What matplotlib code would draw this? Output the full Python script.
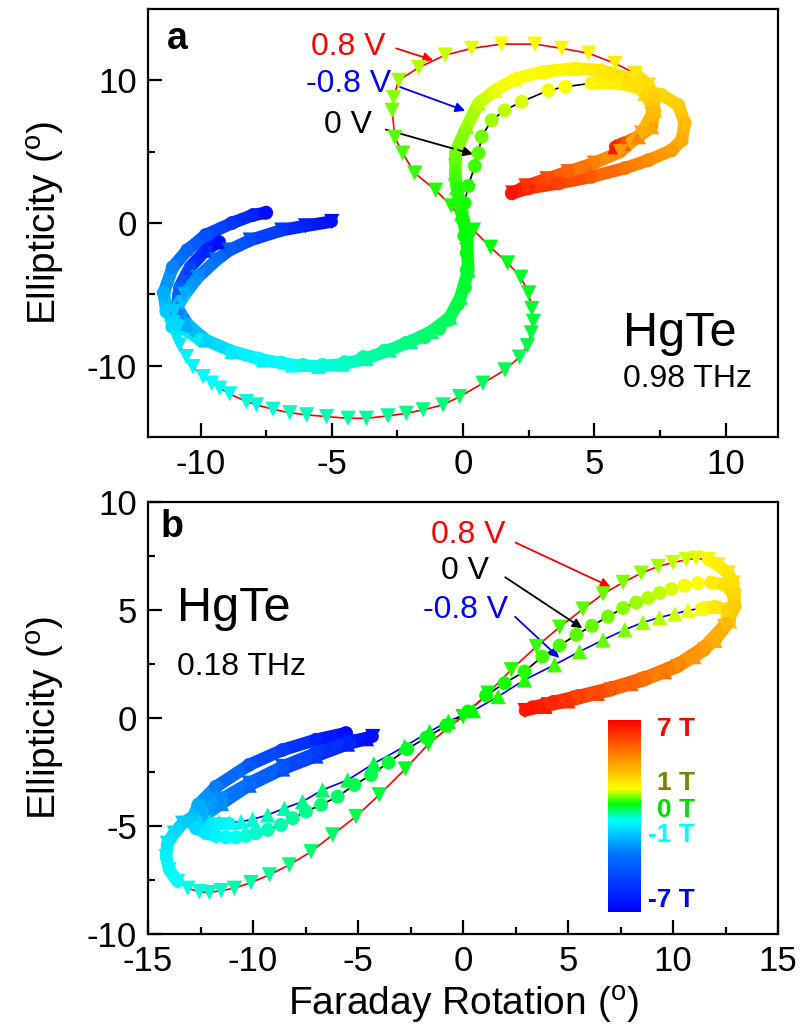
import numpy as np
import matplotlib
matplotlib.use('Agg')
import matplotlib.pyplot as plt
from matplotlib.colors import LinearSegmentedColormap
from matplotlib.collections import LineCollection

plt.rcParams['font.family'] = ['Liberation Sans', 'DejaVu Sans']
plt.rcParams['mathtext.fontset'] = 'custom'
plt.rcParams['mathtext.rm'] = 'Liberation Sans'
plt.rcParams['axes.unicode_minus'] = False

# field (T) -> position on the colour bar
b_nodes = [-7, -1, 0, 1, 7]
f_nodes = [0.03, 0.478, 0.565, 0.643, 0.97]
cmap = LinearSegmentedColormap.from_list('field', [
    (0.0, (0, 0, 1)), (0.3, (0, 0.45, 1)), (0.478, (0, 1, 1)), (0.565, (0, 1, 0)),
    (0.643, (1, 1, 0)), (0.78, (1, 0.62, 0)), (1.0, (1, 0, 0))])

bar_labels = ['7 T', '1 T', '0 T', '-1 T', '-7 T']
bar_label_colors = ['#ff0000', '#808000', '#00dd00', '#00ffff', '#0000ff']

# ---- panel a, 0.98 THz : columns B (T), Faraday rotation, ellipticity
a_p08 = np.array([
    [-7.0, -5.0, 0.1], [-6.3, -6.0, -0.2], [-5.6, -6.9, -0.5], [-4.8, -8.1, -1.2],
    [-4.2, -8.9, -1.9], [-3.6, -9.4, -2.6], [-3.0, -10.1, -3.8], [-2.4, -10.6, -5.0],
    [-1.9, -11.0, -6.2], [-1.6, -11.1, -7.3], [-1.4, -10.9, -8.1], [-1.3, -10.8, -8.55],
    [-1.2, -10.54, -9.37], [-1.12, -10.29, -10.07], [-1.05, -9.9, -10.77], [-1.0, -9.58, -11.23],
    [-0.97, -9.27, -11.58], [-0.93, -8.89, -11.98], [-0.88, -8.25, -12.52], [-0.85, -7.87, -12.75],
    [-0.81, -7.24, -13.06], [-0.77, -6.6, -13.3], [-0.73, -5.96, -13.45], [-0.69, -5.2, -13.57],
    [-0.65, -4.38, -13.69], [-0.61, -3.68, -13.69], [-0.57, -2.86, -13.52], [-0.53, -2.16, -13.34],
    [-0.5, -1.52, -13.1], [-0.46, -0.76, -12.75], [-0.42, -0.13, -12.17], [-0.38, 0.76, -11.23],
    [-0.34, 1.6, -10.3], [-0.3, 2.15, -9.4], [-0.27, 2.45, -8.6], [-0.24, 2.6, -7.7],
    [-0.21, 2.68, -6.9], [-0.18, 2.62, -6.0], [-0.15, 2.5, -4.9], [-0.12, 2.2, -3.8],
    [-0.09, 1.7, -2.8], [-0.06, 1.05, -1.7], [-0.03, 0.4, -0.5], [0.02, -0.05, 0.3],
    [0.07, -0.45, 1.2], [0.12, -1.04, 2.3], [0.2, -1.84, 3.5], [0.28, -2.3, 4.9],
    [0.36, -2.6, 6.0], [0.46, -2.7, 7.9], [0.52, -2.65, 8.8], [0.6, -2.45, 10.0],
    [0.7, -1.69, 10.9], [0.8, -0.68, 11.77], [0.9, 0.33, 12.24], [1.0, 1.47, 12.54],
    [1.1, 2.74, 12.54], [1.2, 3.76, 12.24], [1.3, 4.78, 11.9], [1.4, 5.79, 11.19],
    [1.6, 6.55, 10.49], [1.9, 7.06, 9.67], [2.3, 7.3, 8.6], [2.7, 7.2, 7.6],
    [3.1, 6.8, 6.3], [3.6, 6.0, 5.0], [4.2, 5.0, 4.2], [4.9, 4.0, 3.6],
    [5.6, 3.2, 3.1], [6.3, 2.4, 2.6], [7.0, 1.9, 2.1]])

a_0 = np.array([
    [-7.0, -7.5, 0.72], [-6.3, -8.0, 0.56], [-5.5, -8.8, 0.0], [-4.6, -9.8, -0.84],
    [-3.8, -10.5, -1.9], [-3.1, -11.06, -3.1], [-2.4, -11.4, -4.9], [-1.9, -11.3, -6.2],
    [-1.6, -10.8, -7.2], [-1.35, -10.0, -8.2], [-1.15, -8.8, -9.1], [-1.05, -7.8, -9.5],
    [-0.95, -6.9, -9.8], [-0.88, -6.1, -9.95], [-0.8, -5.35, -9.95], [-0.72, -4.5, -9.75],
    [-0.65, -3.8, -9.4], [-0.58, -3.0, -8.95], [-0.5, -2.16, -8.4], [-0.43, -1.46, -8.0],
    [-0.37, -0.9, -7.4], [-0.31, -0.55, -6.8], [-0.24, -0.2, -5.7], [-0.17, 0.07, -4.5],
    [-0.12, 0.14, -3.3], [-0.07, 0.14, -2.1], [-0.02, 0.05, -0.9], [0.03, 0.0, 0.2],
    [0.08, 0.06, 1.4], [0.14, 0.2, 2.6], [0.24, 0.45, 4.0], [0.32, 0.59, 4.9],
    [0.45, 0.71, 6.05], [0.6, 1.09, 7.2], [0.72, 1.59, 7.9], [0.82, 2.23, 8.5],
    [0.92, 3.25, 9.3], [1.0, 3.9, 9.55], [1.2, 4.9, 9.8], [1.45, 5.92, 9.8],
    [1.75, 6.8, 9.4], [2.0, 7.57, 8.97], [2.3, 8.2, 8.27], [2.7, 8.45, 7.0],
    [3.1, 8.33, 5.8], [3.5, 7.95, 5.1], [4.0, 7.06, 4.4], [4.5, 6.17, 3.85],
    [5.2, 4.9, 3.24], [5.9, 3.63, 2.78], [6.5, 2.49, 2.43], [7.0, 1.86, 2.08]])

a_m08 = np.array([
    [-7.0, -9.27, -1.3], [-6.2, -9.8, -1.9], [-5.2, -10.4, -3.1], [-4.2, -10.8, -4.5],
    [-3.2, -10.9, -5.9], [-2.4, -10.5, -7.1], [-1.8, -9.8, -8.2], [-1.4, -8.8, -9.0],
    [-1.15, -7.6, -9.6], [-1.0, -6.5, -9.95], [-0.9, -5.5, -10.05], [-0.8, -4.6, -9.9],
    [-0.7, -3.7, -9.5], [-0.6, -2.8, -8.9], [-0.52, -2.0, -8.3], [-0.44, -1.2, -7.6],
    [-0.36, -0.5, -6.6], [-0.28, -0.1, -5.2], [-0.17, 0.2, -3.3], [-0.05, 0.14, -0.96],
    [0.03, -0.05, 0.7], [0.15, -0.24, 2.5], [0.25, -0.3, 3.5], [0.4, -0.3, 4.9],
    [0.55, 0.14, 6.75], [0.75, 0.59, 8.4], [0.88, 1.22, 9.3], [1.0, 1.98, 10.1],
    [1.15, 3.0, 10.6], [1.3, 4.27, 10.84], [1.5, 5.28, 10.7], [1.75, 6.3, 10.14],
    [2.1, 6.93, 9.09], [2.6, 7.3, 7.92], [3.3, 7.19, 6.75], [4.2, 6.68, 6.05],
    [5.4, 6.1, 5.58], [7.0, 5.79, 5.35]])

# ---- panel b, 0.18 THz
b_p08 = np.array([
    [-7.0, -4.3, -0.85], [-6.2, -5.41, -1.1], [-5.3, -7.0, -1.62], [-4.5, -8.59, -2.24],
    [-3.7, -10.18, -3.01], [-3.0, -11.5, -3.75], [-2.4, -12.4, -4.3], [-1.9, -13.35, -4.86],
    [-1.6, -13.75, -5.32], [-1.4, -14.07, -5.79], [-1.25, -14.14, -6.41], [-1.1, -13.99, -7.02],
    [-1.0, -13.59, -7.56], [-0.92, -13.11, -7.87], [-0.85, -12.56, -8.03], [-0.8, -12.08, -8.07],
    [-0.75, -11.52, -7.98], [-0.7, -10.89, -7.87], [-0.64, -10.1, -7.61], [-0.58, -9.22, -7.25],
    [-0.5, -8.27, -6.79], [-0.43, -7.24, -6.18], [-0.36, -6.21, -5.4], [-0.29, -5.1, -4.55],
    [-0.22, -3.99, -3.55], [-0.15, -2.75, -2.35], [-0.08, -1.65, -1.2], [-0.03, -0.64, -0.39],
    [0.0, 0.0, 0.07], [0.06, 1.19, 1.16], [0.12, 2.3, 2.24], [0.19, 3.49, 3.31],
    [0.26, 4.6, 4.21], [0.33, 5.71, 5.05], [0.4, 6.67, 5.75], [0.48, 7.62, 6.28],
    [0.56, 8.49, 6.71], [0.64, 9.29, 7.02], [0.72, 10.0, 7.2], [0.8, 10.63, 7.33],
    [0.9, 11.1, 7.4], [1.2, 11.67, 7.33], [1.4, 12.14, 7.1], [1.6, 12.62, 6.71],
    [1.8, 12.86, 6.25], [2.0, 12.93, 5.63], [2.3, 12.86, 5.0], [2.8, 12.46, 4.24],
    [3.4, 11.5, 3.16], [4.0, 10.24, 2.39], [4.6, 8.65, 1.77], [5.2, 7.06, 1.31],
    [5.9, 5.48, 0.93], [6.5, 4.05, 0.62], [7.0, 2.95, 0.35]])

b_0 = np.array([
    [-7.0, -5.57, -0.69], [-6.1, -7.0, -1.0], [-5.2, -8.59, -1.47], [-4.3, -10.18, -2.16],
    [-3.2, -11.76, -3.17], [-2.4, -12.6, -4.0], [-1.9, -12.95, -4.79], [-1.6, -12.71, -5.09],
    [-1.35, -12.24, -5.32], [-1.2, -11.76, -5.45], [-1.05, -11.29, -5.51], [-0.95, -10.81, -5.51],
    [-0.87, -10.33, -5.45], [-0.8, -9.86, -5.32], [-0.73, -9.3, -5.17], [-0.66, -8.67, -4.94],
    [-0.6, -8.11, -4.63], [-0.54, -7.48, -4.32], [-0.47, -6.76, -4.01], [-0.4, -5.97, -3.63],
    [-0.33, -5.17, -3.09], [-0.27, -4.38, -2.63], [-0.21, -3.55, -2.05], [-0.15, -2.66, -1.43],
    [-0.09, -1.75, -0.9], [-0.04, -0.8, -0.35], [0.01, 0.24, 0.31], [0.06, 1.1, 1.05],
    [0.11, 1.98, 1.62], [0.16, 2.93, 2.16], [0.22, 3.78, 2.85], [0.28, 4.6, 3.36],
    [0.34, 5.4, 3.86], [0.4, 6.14, 4.27], [0.46, 6.9, 4.7], [0.53, 7.62, 5.09],
    [0.6, 8.25, 5.35], [0.67, 8.81, 5.56], [0.74, 9.36, 5.79], [0.82, 9.92, 5.97],
    [0.92, 10.55, 6.13], [1.05, 11.19, 6.25], [1.4, 11.82, 6.28], [1.8, 12.46, 6.17],
    [2.1, 12.86, 5.79], [2.5, 12.93, 5.17], [3.0, 12.5, 4.35], [3.6, 11.5, 3.3],
    [4.2, 10.24, 2.5], [4.9, 8.65, 1.87], [5.5, 7.06, 1.4], [6.1, 5.48, 1.02],
    [6.6, 4.3, 0.75], [7.0, 3.3, 0.5]])

b_m08 = np.array([
    [-7.0, -4.6, -0.95], [-6.3, -5.5, -1.2], [-5.4, -7.0, -1.75], [-4.6, -8.59, -2.35],
    [-3.8, -10.18, -3.1], [-3.0, -11.5, -3.95], [-2.3, -12.3, -4.5], [-1.7, -12.56, -4.74],
    [-1.4, -12.08, -4.83], [-1.2, -11.6, -4.83], [-1.05, -11.13, -4.83], [-0.92, -10.57, -4.79],
    [-0.82, -10.02, -4.68], [-0.72, -9.3, -4.48], [-0.62, -8.51, -4.17], [-0.52, -7.64, -3.86],
    [-0.43, -6.69, -3.32], [-0.34, -5.49, -2.86], [-0.26, -4.25, -2.1], [-0.17, -2.78, -1.31],
    [-0.09, -1.59, -0.62], [-0.03, -0.7, -0.15], [0.03, 0.5, 0.35], [0.09, 1.67, 1.0],
    [0.16, 2.93, 1.77], [0.24, 4.36, 2.47], [0.32, 5.55, 3.08], [0.4, 6.67, 3.62],
    [0.5, 7.7, 4.09], [0.6, 8.57, 4.43], [0.7, 9.36, 4.66], [0.8, 10.08, 4.83],
    [0.92, 10.71, 4.98], [1.1, 11.35, 5.09], [1.5, 11.98, 5.17], [2.0, 12.6, 5.0],
    [2.5, 12.7, 4.5], [3.1, 12.0, 3.6], [3.7, 11.0, 2.85], [4.4, 9.6, 2.15],
    [5.1, 8.0, 1.6], [5.8, 6.4, 1.15], [6.4, 5.0, 0.8], [7.0, 3.9, 0.55]])


def field_color(B):
    return cmap(np.interp(B, b_nodes, f_nodes))


def draw_curve(ax, data, marker, lcolor, ms, thr):
    B, x, y = data[:, 0], data[:, 1], data[:, 2]
    ax.plot(x, y, '-', color=lcolor, lw=1.2, zorder=2)
    # high field: points crowd into a continuous band
    pts = np.column_stack([x, y])
    segs = np.stack([pts[:-1], pts[1:]], axis=1)
    keep = (np.abs(B[:-1]) >= thr) & (np.abs(B[1:]) >= thr)
    lc = LineCollection(segs[keep], colors=field_color(0.5 * (B[:-1] + B[1:]))[keep],
                        linewidths=9, capstyle='round', zorder=3)
    ax.add_collection(lc)
    ax.scatter(x, y, c=field_color(B), marker=marker, s=ms ** 2, edgecolors='none', zorder=4)


def style_axis(ax):
    for s in ax.spines.values():
        s.set_linewidth(1.6)
    ax.tick_params(which='both', direction='in', top=False, right=False, width=1.6, labelsize=25, pad=8)
    ax.tick_params(which='major', length=10)
    ax.tick_params(which='minor', length=5)


fig = plt.figure(figsize=(8.01, 10.36), dpi=100)
ax1 = fig.add_axes([0.1848, 0.5782, 0.7865, 0.4131])
ax2 = fig.add_axes([0.1848, 0.0982, 0.7865, 0.4172])

# panel a
draw_curve(ax1, a_0, 'o', 'black', 10, 1.2)
draw_curve(ax1, a_m08, '^', 'blue', 11, 0.0)
draw_curve(ax1, a_p08, 'v', 'red', 11, 1.5)
ax1.set_xlim(-12, 12)
ax1.set_ylim(-15, 15)
ax1.set_xticks([-10, -5, 0, 5, 10])
ax1.set_xticks([-7.5, -2.5, 2.5, 7.5], minor=True)
ax1.set_yticks([-10, 0, 10])
ax1.set_yticks([-5, 5], minor=True)
style_axis(ax1)
ax1.set_ylabel(r'Ellipticity ($^{\rm o}$)', fontsize=28, labelpad=14)
ax1.text(-11.3, 12.2, 'a', fontsize=27, fontweight='bold')
ax1.text(6.1, -8.6, 'HgTe', fontsize=35)
ax1.text(6.1, -11.5, '0.98 THz', fontsize=23)

ax1.text(-2.94, 12.33, '0.8 V', color='red', fontsize=23, ha='right', va='center')
ax1.annotate('', xy=(-1.04, 11.35), xytext=(-2.65, 12.3),
             arrowprops=dict(arrowstyle='-|>', color='red', lw=1.3, mutation_scale=14))
ax1.text(-2.72, 9.74, '-0.8 V', color='blue', fontsize=23, ha='right', va='center')
ax1.annotate('', xy=(0.18, 7.8), xytext=(-2.5, 9.6),
             arrowprops=dict(arrowstyle='-|>', color='blue', lw=1.3, mutation_scale=14))
ax1.text(-3.45, 6.87, '0 V', color='black', fontsize=23, ha='right', va='center')
ax1.annotate('', xy=(0.48, 4.77), xytext=(-3.04, 6.6),
             arrowprops=dict(arrowstyle='-|>', color='black', lw=1.3, mutation_scale=14))

# panel b
draw_curve(ax2, b_m08, '^', 'blue', 11, 1.0)
draw_curve(ax2, b_0, 'o', 'black', 10, 1.2)
draw_curve(ax2, b_p08, 'v', 'red', 11, 1.0)
ax2.set_xlim(-15, 15)
ax2.set_ylim(-10, 10)
ax2.set_xticks([-15, -10, -5, 0, 5, 10, 15])
ax2.set_xticks([-12.5, -7.5, -2.5, 2.5, 7.5, 12.5], minor=True)
ax2.set_yticks([-10, -5, 0, 5, 10])
ax2.set_yticks([-7.5, -2.5, 2.5, 7.5], minor=True)
style_axis(ax2)
ax2.set_ylabel(r'Ellipticity ($^{\rm o}$)', fontsize=28, labelpad=14)
ax2.set_xlabel(r'Faraday Rotation ($^{\rm o}$)', fontsize=28)
ax2.text(-14.4, 8.4, 'b', fontsize=27, fontweight='bold')
ax2.text(-13.6, 4.5, 'HgTe', fontsize=35)
ax2.text(-13.6, 2.0, '0.18 THz', fontsize=23)

ax2.text(2.01, 8.49, '0.8 V', color='red', fontsize=23, ha='right', va='center')
ax2.annotate('', xy=(7.14, 6.02), xytext=(2.38, 8.18),
             arrowprops=dict(arrowstyle='-|>', color='red', lw=1.3, mutation_scale=14))
ax2.text(1.25, 6.82, '0 V', color='black', fontsize=23, ha='right', va='center')
ax2.annotate('', xy=(5.79, 4.09), xytext=(1.9, 6.59),
             arrowprops=dict(arrowstyle='-|>', color='black', lw=1.3, mutation_scale=14))
ax2.text(2.16, 4.99, '-0.8 V', color='blue', fontsize=23, ha='right', va='center')
ax2.annotate('', xy=(4.68, 2.7), xytext=(2.38, 4.78),
             arrowprops=dict(arrowstyle='-|>', color='blue', lw=1.3, mutation_scale=14))

# colour bar of the field
cax = fig.add_axes([0.759, 0.1197, 0.040, 0.1853])
cax.imshow(np.linspace(0, 1, 256)[:, None], aspect='auto', cmap=cmap, origin='lower')
cax.axis('off')
label_y = [729, 783, 810, 835, 900]
for txt, col, py in zip(bar_labels, bar_label_colors, label_y):
    fig.text(695 / 801, 1 - py / 1036, txt, color=col, fontsize=19, fontweight='bold',
             ha='right', va='center')

fig.savefig('out.png', dpi=100)
